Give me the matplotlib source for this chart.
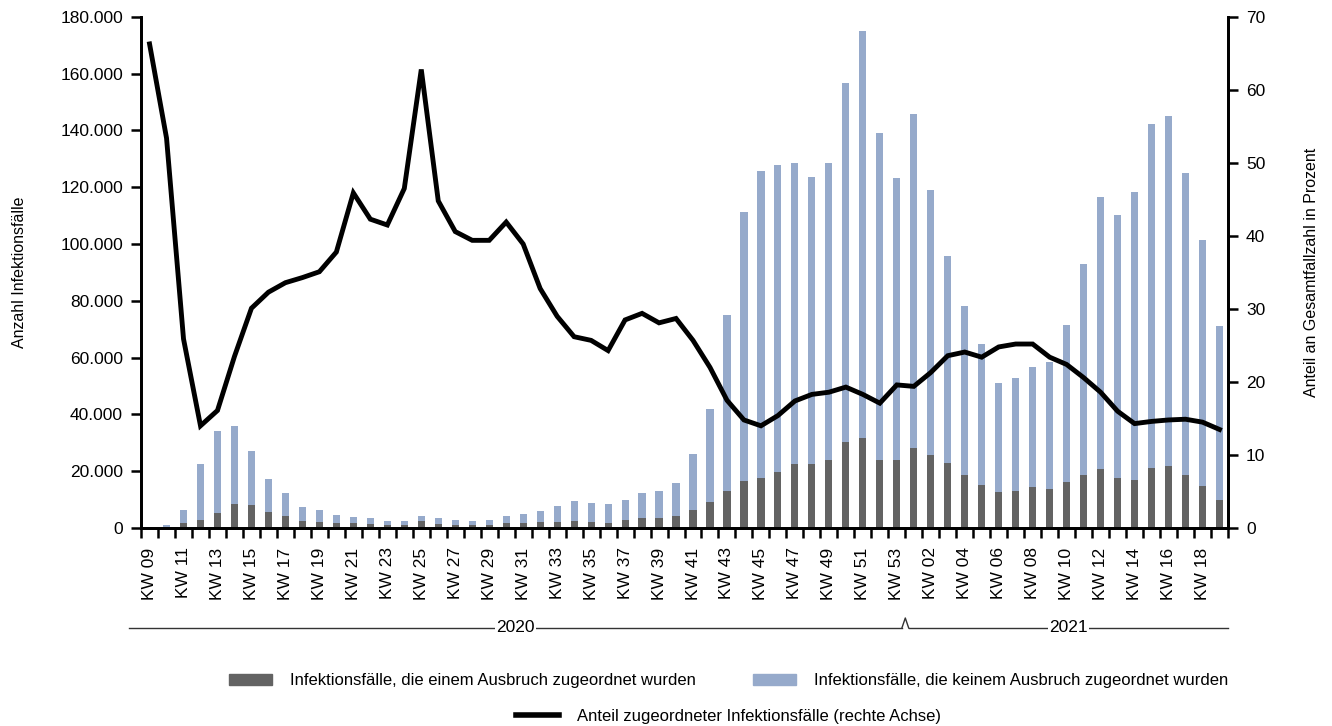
import matplotlib
matplotlib.use('Agg')
import matplotlib.pyplot as plt
import numpy as np
from matplotlib.ticker import FuncFormatter, MultipleLocator
from matplotlib.transforms import blended_transform_factory
from matplotlib.patches import Patch
from matplotlib.lines import Line2D

plt.rcParams['font.family'] = ['Liberation Sans', 'DejaVu Sans']

weeks_2020 = ['KW %02d' % w for w in range(9, 54)]
weeks_2021 = ['KW %02d' % w for w in range(1, 20)]
weeks = weeks_2020 + weeks_2021

# Infektionsfälle insgesamt je Woche
total_cases = [500, 1000, 6300, 22400, 34000, 36100, 27200, 17400, 12500, 7550,
               6200, 4700, 3800, 3400, 2300, 2300, 4200, 3400, 2650, 2300,
               3000, 4200, 4900, 6000, 7900, 9600, 8700, 8600, 9700, 12200,
               13100, 16000, 26200, 42000, 74900, 111200, 125900, 127900, 128700, 123600,
               128700, 156600, 175000, 139200, 123400, 145700, 119200, 95800, 78300, 64900,
               51000, 52800, 56700, 58500, 71500, 92900, 116700, 110400, 118500, 142400,
               145200, 125200, 101300, 71200]

# davon einem Ausbruch zugeordnet
outbreak_cases = [0, 200, 1760, 3000, 5300, 8400, 8000, 5700, 4200, 2400,
                  2100, 1760, 1760, 1400, 1000, 1000, 2500, 1500, 1000, 1000,
                  1000, 1760, 1900, 2000, 2000, 2400, 2000, 1900, 2650, 3500,
                  3500, 4400, 6500, 9200, 13000, 16400, 17600, 19800, 22400, 22700,
                  23900, 30200, 31700, 23900, 23900, 28300, 25600, 22800, 18800, 15300,
                  12800, 13200, 14400, 13800, 16200, 18800, 20800, 17700, 16900, 21000,
                  21800, 18700, 14900, 9700]

# Anteil zugeordneter Fälle in Prozent
share_pct = [66.3, 53.4, 25.9, 14.0, 16.1, 23.5, 30.1, 32.3, 33.6, 34.3,
             35.1, 37.8, 45.9, 42.3, 41.5, 46.5, 62.8, 44.8, 40.6, 39.4,
             39.4, 41.9, 38.9, 32.8, 29.0, 26.2, 25.7, 24.3, 28.5, 29.4,
             28.1, 28.7, 25.7, 22.0, 17.5, 14.8, 14.0, 15.4, 17.4, 18.3,
             18.6, 19.3, 18.3, 17.1, 19.6, 19.4, 21.3, 23.6, 24.1, 23.4,
             24.8, 25.2, 25.2, 23.4, 22.4, 20.6, 18.6, 16.0, 14.3, 14.6,
             14.8, 14.9, 14.5, 13.5]

dark = '#636363'
blue = '#96aacb'

x = np.arange(len(weeks))
outbreak = np.array(outbreak_cases)
other = np.array(total_cases) - outbreak

fig = plt.figure(figsize=(13.32, 7.26), dpi=100)
ax = fig.add_axes([0.1059, 0.2727, 0.816, 0.704])
ax.bar(x, outbreak, width=0.42, color=dark, zorder=2)
ax.bar(x, other, width=0.42, bottom=outbreak, color=blue, zorder=2)

ax.set_xlim(-0.5, len(weeks) - 0.5)
ax.set_ylim(0, 180000)
ax.yaxis.set_major_locator(MultipleLocator(20000))
ax.yaxis.set_major_formatter(FuncFormatter(lambda v, p: f'{int(v):,}'.replace(',', '.')))
ax.set_xticks(x[::2])
ax.set_xticklabels(weeks[::2], rotation=90, fontsize=12.5)
ax.set_xticks(np.arange(-0.5, len(weeks)), minor=True)
ax.tick_params(axis='x', which='major', length=0, pad=14)
ax.tick_params(axis='x', which='minor', length=7, width=1.8, direction='out')
ax.tick_params(axis='y', length=7, width=1.8, labelsize=12.5, pad=6)
ax.set_ylabel('Anzahl Infektionsfälle', fontsize=11.5, labelpad=24)

ax.spines['top'].set_visible(False)
for side in ['left', 'bottom', 'right']:
    ax.spines[side].set_linewidth(2)

ax2 = ax.twinx()
ax2.plot(x, share_pct, color='black', lw=3.5, solid_joinstyle='miter', zorder=3)
ax2.set_ylim(0, 70)
ax2.yaxis.set_major_locator(MultipleLocator(10))
ax2.tick_params(axis='y', length=7, width=1.8, labelsize=12.5, pad=6)
ax2.set_ylabel('Anteil an Gesamtfallzahl in Prozent', fontsize=11.5, labelpad=28)
ax2.spines['top'].set_visible(False)
for side in ['left', 'bottom', 'right']:
    ax2.spines[side].set_linewidth(2)

# Jahresachse unter den Kalenderwochen
tr = blended_transform_factory(ax.transData, fig.transFigure)
yl = 1 - 628 / 726
yk = 1 - 618 / 726
ax.plot([-1.2, 44.3], [yl, yl], color='#333333', lw=1, transform=tr, clip_on=False)
ax.plot([44.3, 44.5, 44.7], [yl, yk, yl], color='#333333', lw=1, transform=tr, clip_on=False)
ax.plot([44.7, 63.5], [yl, yl], color='#333333', lw=1, transform=tr, clip_on=False)
ax.text(21.55, yl, '2020', transform=tr, ha='center', va='center', fontsize=12.5,
        bbox=dict(facecolor='white', edgecolor='none', pad=1))
ax.text(54.1, yl, '2021', transform=tr, ha='center', va='center', fontsize=12.5,
        bbox=dict(facecolor='white', edgecolor='none', pad=1))

h1 = [Patch(color=dark), Patch(color=blue)]
l1 = ['Infektionsfälle, die einem Ausbruch zugeordnet wurden',
      'Infektionsfälle, die keinem Ausbruch zugeordnet wurden']
fig.legend(h1, l1, ncol=2, loc='center', bbox_to_anchor=(0.547, 1 - 681 / 726),
           frameon=False, fontsize=12, handlelength=2.6, handleheight=0.6,
           handletextpad=1.1, columnspacing=3.4)
h2 = [Line2D([0], [0], color='black', lw=4)]
fig.legend(h2, ['Anteil zugeordneter Infektionsfälle (rechte Achse)'], loc='center',
           bbox_to_anchor=(0.547, 1 - 716 / 726), frameon=False, fontsize=12,
           handlelength=2.6, handletextpad=1.1)

fig.savefig('out.png', dpi=100)
